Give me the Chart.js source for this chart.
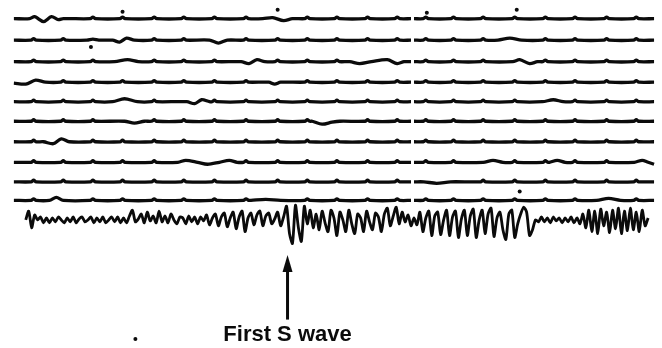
<!DOCTYPE html>
<html>
<head>
<meta charset="utf-8">
<script src="https://cdn.jsdelivr.net/npm/chart.js@4/dist/chart.umd.min.js"></script>
<style>
  html, body { margin: 0; padding: 0; background: #fff; }
  #c { display: block; }
</style>
</head>
<body>
<canvas id="c" width="662" height="348"></canvas>
<script>
/* seismogram: 10 quiet drum lines + the last trace with the S arrival */

// baseline of each quiet line (record units, top = 0)
const rowY = [15, 37, 59, 80, 100, 120, 141, 162, 182, 201];
// minute marks, same on every line
const minuteTicks = [30, 60, 90, 120, 152, 182, 213, 245, 277, 307, 337, 368, 398, 427, 455, 485, 517, 548, 578, 610, 640];
const traceStart = 10, traceEnd = 658;
const breakFrom = 412, breakTo = 415;

// slow swells on each line: [x, deflection up]
const swells = [
  [[[26, 0], [31, 2], [40, -3], [48, 2], [55, -1], [60, 0]], [[262, 0], [272, 1], [283, -2], [292, 0]]],
  [[[84, 0], [90, 1], [96, 0]], [[110, 0], [117, -2], [124, 2], [132, 0]], [[208, 0], [217, -3], [226, 0]], [[500, 0], [512, 2], [524, 0]]],
  [[[112, 0], [125, 2], [136, 0]], [[240, 0], [248, -2], [256, 2], [264, 0]], [[350, 0], [360, -2], [372, 0], [388, 2], [398, -2], [405, 0]], [[515, 0], [522, 2], [532, -2], [540, 0]]],
  [[[10, -1], [22, -2], [32, 2], [42, 0]], [[268, 0], [274, -2], [280, 0]]],
  [[[110, 0], [122, 3], [135, 0]], [[185, 0], [193, -2], [200, 2], [208, 0]], [[545, 0], [556, 2], [566, 0]]],
  [[[122, 0], [132, -2], [142, 0]], [[312, 0], [322, -3], [332, -1], [340, 0]]],
  [[[40, 0], [50, -2], [58, 3], [66, 0]]],
  [[[176, 0], [184, 2], [196, 0], [206, -2], [218, 0], [228, 2], [236, 0]], [[485, 0], [495, 2], [505, 0]], [[552, 0], [560, 2], [568, 0]], [[638, 0], [646, 2], [652, 0], [658, -2]]],
  [[[425, 0], [438, -1.5], [452, 0]]],
  [[[46, 0], [53, 3], [60, 0]], [[250, 0], [265, 1], [280, 0]], [[600, 0], [612, 2], [624, 0]]],
];

// last trace: deflection every 3 units from x = 22
const sBase = 221;
const sStartX = 22, sStep = 3;
const sWave = [
  0, 9, -8, 5, 0, 3, -3, 2, -3, 2,
  -2, 3, 0, -3, 2, -2, 3, -3, 1, 3,
  -2, 0, 3, -3, 2, -2, 3, -3, 0, 3,
  -2, 3, -3, 2, -3, 4, 10, -2, 1, 6,
  -3, 8, -1, 4, -3, 9, -2, 4, -3, 6,
  0, -4, 3, 2, -4, 4, -2, 3, -4, 3,
  -1, 5, -5, 2, 6, -6, 3, 7, -7, 2,
  8, -9, 3, 9, -12, 2, 7, -5, 5, 9,
  -6, 4, 7, -4, 1, 8, -6, 3, 14, -14,
  -24, 15, -8, -22, 14, -4, 10, -8, 6, -10,
  9, -3, -12, 10, 2, -16, 8, 0, -12, 10,
  -4, -14, 6, 2, -12, 9, -2, -10, 7, 3,
  -12, 6, 12, -6, 4, 13, -4, 8, -2, 5,
  -6, 2, -5, 8, -12, 2, 9, -16, 4, 8,
  -15, 0, 10, -16, 3, 9, -18, 1, 10, -16,
  4, 11, -18, 0, 10, -14, 6, 12, -17, 2,
  8, -10, -20, 6, 10, -18, -4, 6, 13, 8,
  -16, -10, 0, -2, 3, -2, 2, -3, 3, -1,
  2, -3, 2, -2, 3, -3, 2, -4, 6, -8,
  10, -12, 9, -14, 11, -6, 8, -13, 10, -9,
  12, -14, 9, -11, 12, -10, 8, -12, 10, -6,
  2,
];

// stray ink specks on the record
const specks = [[120, 8], [277, 6], [428, 9], [519, 6], [88, 44], [522, 192], [133, 343]];

// arrow and caption
const arrowX = 287, arrowTail = 323, arrowTip = 257;
const caption = 'First S wave';
const captionY = 345;

const INK = '#0b0b0b';

function lineData(k) {
  const base = rowY[k];
  const pts = [];
  const ranges = swells[k].map(s => [s[0][0], s[s.length - 1][0]]);
  const inSwell = x => ranges.some(r => x >= r[0] - 3 && x <= r[1] + 3);
  swells[k].forEach(s => s.forEach(([x, d]) => pts.push({ x, y: base - d })));
  minuteTicks.forEach(t => {
    if (inSwell(t) || (t > breakFrom - 4 && t < breakTo + 4)) return;
    pts.push({ x: t - 2.5, y: base }, { x: t, y: base - 1.6 }, { x: t + 2.5, y: base });
  });
  if (!inSwell(traceStart)) pts.push({ x: traceStart, y: base });
  if (!inSwell(traceEnd)) pts.push({ x: traceEnd, y: base });
  pts.push({ x: breakFrom, y: base }, { x: breakTo, y: base });
  pts.push({ x: (breakFrom + breakTo) / 2, y: null });
  pts.sort((a, b) => a.x - b.x);
  return pts;
}

const datasets = rowY.map((_, k) => ({
  data: lineData(k),
  borderColor: INK,
  borderWidth: 3.3,
  pointRadius: 0,
  tension: 0.3,
  spanGaps: false,
}));

datasets.push({
  data: sWave.map((d, i) => ({ x: sStartX + i * sStep, y: sBase - d })),
  borderColor: INK,
  borderWidth: 2.8,
  pointRadius: 0,
  tension: 0.25,
});

datasets.push({
  type: 'scatter',
  data: specks.map(([x, y]) => ({ x, y })),
  pointRadius: 2,
  pointBackgroundColor: INK,
  pointBorderWidth: 0,
});

const arrowPlugin = {
  id: 'arrow',
  afterDraw(chart) {
    const { ctx, scales: { x, y } } = chart;
    const px = x.getPixelForValue(arrowX);
    const tip = y.getPixelForValue(arrowTip);
    const tail = y.getPixelForValue(arrowTail);
    ctx.save();
    ctx.strokeStyle = INK;
    ctx.fillStyle = INK;
    ctx.lineWidth = 3;
    ctx.beginPath();
    ctx.moveTo(px, tail);
    ctx.lineTo(px, tip + 12);
    ctx.stroke();
    ctx.beginPath();
    ctx.moveTo(px, tip);
    ctx.lineTo(px - 5, tip + 17);
    ctx.lineTo(px + 5, tip + 17);
    ctx.closePath();
    ctx.fill();
    ctx.font = 'bold 22px "Liberation Sans", Arial, sans-serif';
    ctx.textAlign = 'center';
    ctx.textBaseline = 'alphabetic';
    ctx.fillText(caption, px, y.getPixelForValue(captionY));
    ctx.restore();
  }
};

new Chart(document.getElementById('c'), {
  type: 'line',
  data: { datasets },
  options: {
    responsive: false,
    animation: false,
    layout: { padding: 0 },
    plugins: { legend: { display: false }, tooltip: { enabled: false } },
    scales: {
      x: { type: 'linear', min: 0, max: 662, display: false },
      y: { type: 'linear', min: 0, max: 348, reverse: true, display: false },
    },
  },
  plugins: [arrowPlugin],
});
</script>
</body>
</html>
